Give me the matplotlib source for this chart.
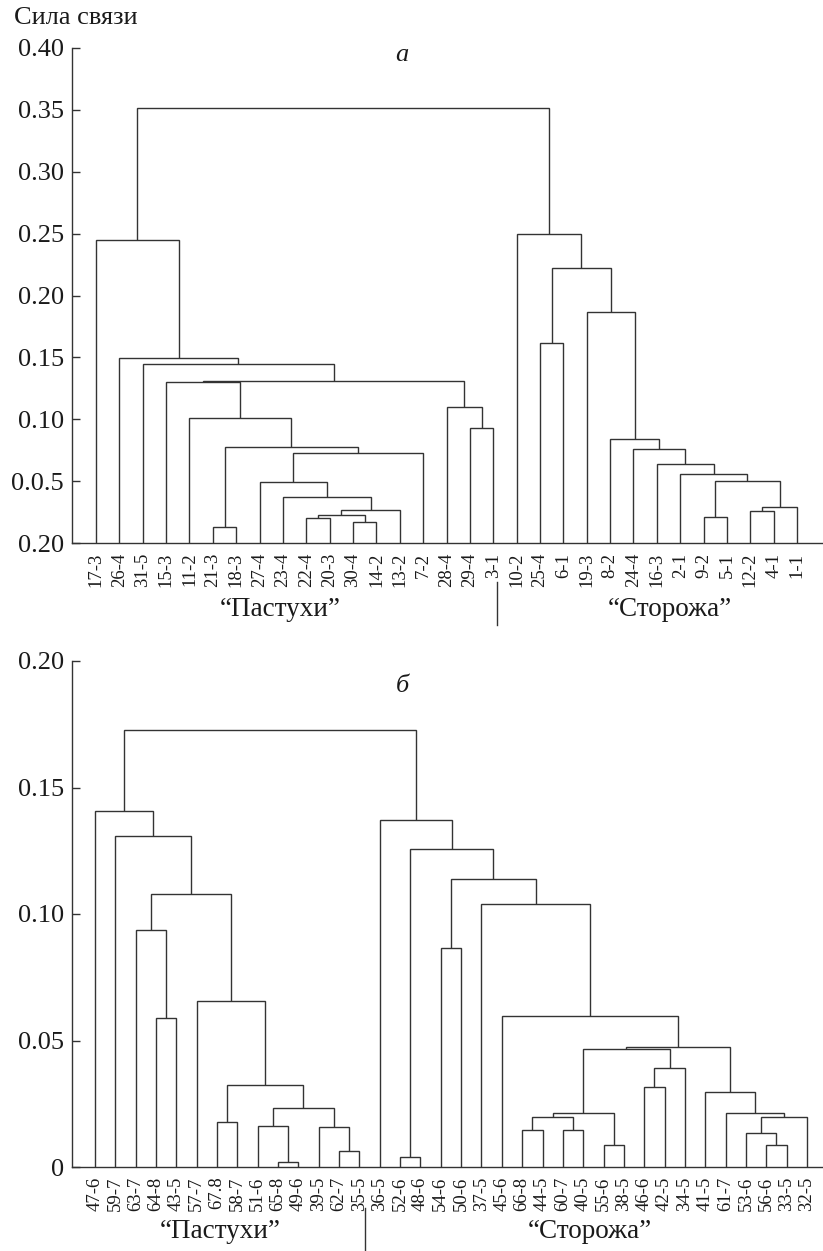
import matplotlib
matplotlib.use("Agg")
import matplotlib.pyplot as plt
import matplotlib.transforms as mtransforms

plt.rcParams['font.family'] = ['Liberation Serif', 'DejaVu Serif']

# ---------------- data: panel а ----------------
leaves_a = ["17-3", "26-4", "31-5", "15-3", "11-2", "21-3", "18-3", "27-4", "23-4",
            "22-4", "20-3", "30-4", "14-2", "13-2", "7-2", "28-4", "29-4", "3-1",
            "10-2", "25-4", "6-1", "19-3", "8-2", "24-4", "16-3", "2-1", "9-2",
            "5-1", "12-2", "4-1", "1-1"]
# merges: "#k" refers to the k-th merge
left_a = ["22-4", "30-4", "#0", "#2", "23-4", "27-4", "#5", "21-3", "#7", "11-2",
          "29-4", "28-4", "15-3", "#12", "31-5", "26-4", "17-3",
          "9-2", "12-2", "#18", "#17", "2-1", "16-3", "24-4", "8-2", "19-3",
          "25-4", "#26", "10-2", "#16"]
right_a = ["20-3", "14-2", "#1", "13-2", "#3", "#4", "7-2", "18-3", "#6", "#8",
           "3-1", "#10", "#9", "#11", "#13", "#14", "#15",
           "5-1", "4-1", "1-1", "#19", "#20", "#21", "#22", "#23", "#24",
           "6-1", "#25", "#27", "#28"]
height_a = [0.0202, 0.0170, 0.0226, 0.0267, 0.0372, 0.0493, 0.0727, 0.0130, 0.0777, 0.101,
            0.093, 0.110, 0.1305, 0.1312, 0.1446, 0.1495, 0.2448,
            0.021, 0.026, 0.029, 0.050, 0.0557, 0.0638, 0.076, 0.084, 0.1867,
            0.1616, 0.2222, 0.2497, 0.3515]
yticks_a = [0.0, 0.05, 0.10, 0.15, 0.20, 0.25, 0.30, 0.35, 0.40]
yticklabels_a = ["0.20", "0.0.5", "0.10", "0.15", "0.20", "0.25", "0.30", "0.35", "0.40"]

# ---------------- data: panel б ----------------
leaves_b = ["47-6", "59-7", "63-7", "64-8", "43-5", "57-7", "67.8", "58-7", "51-6",
            "65-8", "49-6", "39-5", "62-7", "35-5", "36-5", "52-6", "48-6", "54-6",
            "50-6", "37-5", "45-6", "66-8", "44-5", "60-7", "40-5", "55-6", "38-5",
            "46-6", "42-5", "34-5", "41-5", "61-7", "53-6", "56-6", "33-5", "32-5"]
left_b = ["65-8", "51-6", "62-7", "39-5", "#1", "67.8", "#5", "57-7", "64-8", "63-7",
          "#9", "59-7", "47-6",
          "52-6", "54-6", "66-8", "60-7", "#15", "55-6", "#17", "46-6", "#20", "#19",
          "56-6", "53-6", "#24", "61-7", "41-5", "#22", "45-6", "37-5", "#14", "#13",
          "36-5", "#12"]
right_b = ["49-6", "#0", "35-5", "#2", "#3", "58-7", "#4", "#6", "43-5", "#8",
           "#7", "#10", "#11",
           "48-6", "50-6", "44-5", "40-5", "#16", "38-5", "#18", "42-5", "34-5", "#21",
           "33-5", "#23", "32-5", "#25", "#26", "#27", "#28", "#29", "#30", "#31",
           "#32", "#33"]
height_b = [0.002, 0.0162, 0.0063, 0.0158, 0.0233, 0.0178, 0.0324, 0.0656, 0.0589, 0.0937,
            0.1079, 0.1308, 0.1407,
            0.004, 0.0866, 0.0146, 0.0146, 0.0198, 0.0087, 0.0212, 0.0317, 0.039, 0.0466,
            0.0085, 0.0134, 0.0198, 0.0213, 0.0297, 0.0474, 0.0597, 0.104, 0.1138, 0.1257,
            0.1372, 0.1727]
yticks_b = [0.0, 0.05, 0.10, 0.15, 0.20]
yticklabels_b = ["0", "0.05", "0.10", "0.15", "0.20"]

group_labels = ["\u201cПастухи\u201d", "\u201cСторожа\u201d"]
title_text = "Сила связи"
panel_letters = ["а", "б"]

LINE = "#333333"
TEXT = "#1a1a1a"
LW = 1.0


def draw_dendro(ax, leaves, lefts, rights, heights):
    pos = {name: (float(i), 0.0) for i, name in enumerate(leaves)}
    nodes = []

    def get(ref):
        if ref.startswith("#"):
            return nodes[int(ref[1:])]
        return pos[ref]

    for l, r, h in zip(lefts, rights, heights):
        xl, hl = get(l)
        xr, hr = get(r)
        ax.plot([xl, xl, xr, xr], [hl, h, h, hr], color=LINE, lw=LW,
                solid_joinstyle="miter", solid_capstyle="butt", clip_on=False)
        nodes.append(((xl + xr) / 2.0, h))


def style_axis(ax, leaves, yticks, yticklabels, ymax, xlim):
    ax.set_xlim(*xlim)
    ax.set_ylim(0, ymax)
    for s in ["top", "right"]:
        ax.spines[s].set_visible(False)
    for s in ["left", "bottom"]:
        ax.spines[s].set_color(LINE)
        ax.spines[s].set_linewidth(LW)
    ax.set_yticks(yticks)
    ax.set_yticklabels(yticklabels, fontsize=19, color=TEXT)
    ax.tick_params(axis="y", direction="in", length=6, width=LW, color=LINE, pad=6)
    ax.set_xticks(range(len(leaves)))
    ax.set_xticklabels(leaves, rotation=90, fontsize=13.5, color=TEXT)
    ax.tick_params(axis="x", length=0, pad=7)


fig = plt.figure(figsize=(8.23, 12.51), dpi=100)

# panel а
ax1 = fig.add_axes([72 / 823, 1 - 543 / 1251, 751 / 823, 495 / 1251])
draw_dendro(ax1, leaves_a, left_a, right_a, height_a)
style_axis(ax1, leaves_a, yticks_a, yticklabels_a, 0.40, (-1.027, 31.11))

# panel б
ax2 = fig.add_axes([72 / 823, 1 - 1167 / 1251, 751 / 823, 506 / 1251])
draw_dendro(ax2, leaves_b, left_b, right_b, height_b)
style_axis(ax2, leaves_b, yticks_b, yticklabels_b, 0.20, (-1.131, 35.79))

# title and panel letters
fig.text(14 / 823, 1 - 18 / 1251, title_text, fontsize=19, color=TEXT, ha="left", va="center")
ax1.text(13.1, 0.394, panel_letters[0], fontsize=19, style="italic", color=TEXT,
         ha="center", va="center")
ax2.text(15.1, 0.19, panel_letters[1], fontsize=19, style="italic", color=TEXT,
         ha="center", va="center")

# group labels and separators
for ax, xs, ysep, ylab, xsep in [
    (ax1, (7.87, 24.56), (-0.079, -0.166), -0.135, 17.16),
    (ax2, (6.15, 24.33), (-0.081, -0.164), -0.128, 13.27),
]:
    tr = mtransforms.blended_transform_factory(ax.transData, ax.transAxes)
    for x, lab in zip(xs, group_labels):
        ax.text(x, ylab, lab, transform=tr, fontsize=19.5, color=TEXT,
                ha="center", va="center")
    ax.plot([xsep, xsep], list(ysep), transform=tr, color=LINE, lw=LW, clip_on=False)

fig.savefig("out.png", dpi=100, facecolor="white")
